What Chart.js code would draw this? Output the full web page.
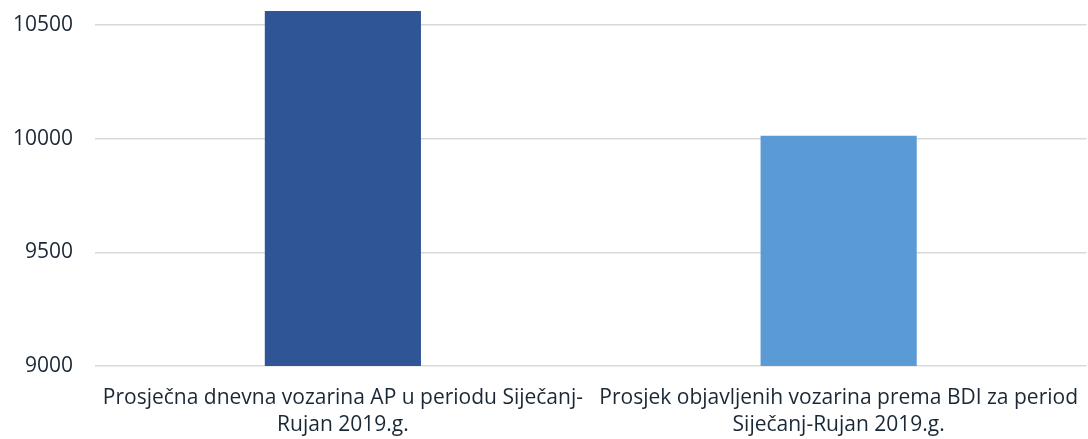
<!DOCTYPE html>
<html>
<head>
<meta charset="utf-8">
<script src="https://cdn.jsdelivr.net/npm/chart.js@4/dist/chart.umd.min.js"></script>
<style>
  html, body { margin: 0; padding: 0; background: #fff; }
  #wrap { width: 1088px; height: 439px; position: relative; }
</style>
</head>
<body>
<div id="wrap"><canvas id="chart"></canvas></div>
<script>
// values
const categories = [
    ['Prosječna dnevna vozarina AP u periodu Siječanj-', 'Rujan 2019.g.'],
    ['Prosjek objavljenih vozarina prema BDI za period', 'Siječanj-Rujan 2019.g.']
];
const values = [10562, 10013];
const barColors = ['#2F5597', '#5B9BD5'];
const yTicks = [9000, 9500, 10000, 10500];

const textColor = '#1a2836';
const fontFamily = '"Open Sans", sans-serif';

const ctx = document.getElementById('chart').getContext('2d');
new Chart(ctx, {
    type: 'bar',
    data: {
        labels: categories,
        datasets: [{
            data: values,
            backgroundColor: barColors,
            barPercentage: 0.63,
            categoryPercentage: 0.5
        }]
    },
    options: {
        responsive: true,
        maintainAspectRatio: false,
        animation: false,
        layout: { padding: 0 },
        plugins: {
            legend: { display: false },
            tooltip: { enabled: false }
        },
        scales: {
            x: {
                grid: { display: false },
                border: { display: false },
                ticks: {
                    color: textColor,
                    font: { family: fontFamily, size: 21, lineHeight: 1.3 },
                    padding: 10,
                    maxRotation: 0,
                    autoSkip: false
                },
                afterFit: function(scale) { scale.height = 73; }
            },
            y: {
                min: 9000,
                max: 10610,
                border: { display: false },
                grid: { color: '#d9d9d9', lineWidth: 1.5, drawTicks: false },
                ticks: {
                    color: textColor,
                    font: { family: fontFamily, size: 21 },
                    padding: 22,
                    callback: function(value) { return String(value); }
                },
                afterBuildTicks: function(scale) {
                    scale.ticks = yTicks.map(v => ({ value: v }));
                },
                afterFit: function(scale) {
                    scale.width = 95;
                    scale.paddingTop = 0;
                    scale.paddingBottom = 0;
                }
            }
        }
    }
});
</script>
</body>
</html>
